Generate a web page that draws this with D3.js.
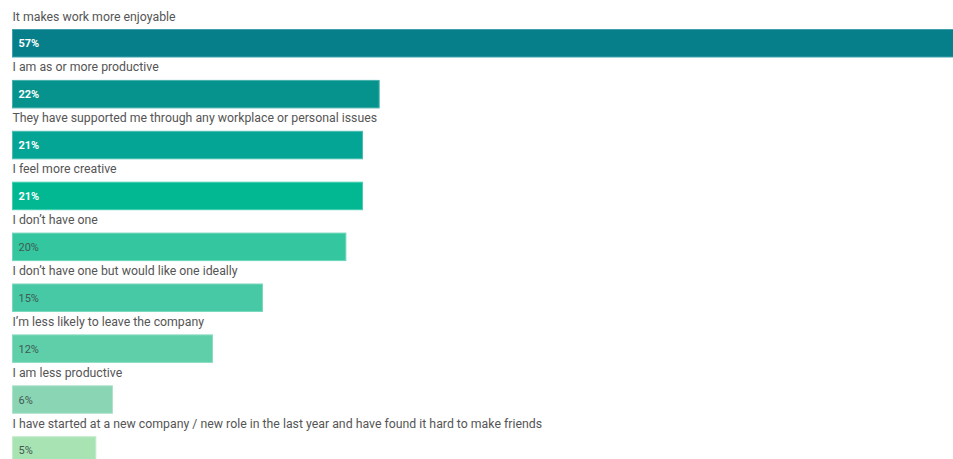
<!DOCTYPE html>
<html>
<head>
<meta charset="utf-8">
<script src="https://cdn.jsdelivr.net/npm/d3@7"></script>
<style>
  html, body { margin: 0; padding: 0; background: #fff; overflow: hidden; }
  svg { display: block; }
  text { font-family: Roboto, "Open Sans", sans-serif; }
</style>
</head>
<body>
<svg id="chart" width="953" height="459"></svg>
<script>
// Survey answers, in display order
const categories = [
  "It makes work more enjoyable",
  "I am as or more productive",
  "They have supported me through any workplace or personal issues",
  "I feel more creative",
  "I don\u2019t have one",
  "I don\u2019t have one but would like one ideally",
  "I\u2019m less likely to leave the company",
  "I am less productive",
  "I have started at a new company / new role in the last year and have found it hard to make friends"
];
// Share of respondents (%)
const values = [57, 22, 21, 21, 20, 15, 12, 6, 5];
// Bar fills, dark teal fading to pale green
const fills = ["#067f8a", "#06938e", "#05a596", "#01b893", "#33c69f", "#47c9a5", "#5ecfa9", "#8ad5b4", "#a8e3b4"];
const strokes = ["#3fa2ab", "#45b0ab", "#48bdb0", "#45cdae", "#6dd6b8", "#7ad8bd", "#8adcc0", "#aee2cb", "#c3ecca"];
const labelInk = ["#ffffff", "#ffffff", "#ffffff", "#ffffff", "#3f5a53", "#3f5a53", "#3f5a53", "#3f5a53", "#3f5a53"];

const data = categories.map((c, i) => ({ cat: c, v: values[i], fill: fills[i], stroke: strokes[i], ink: labelInk[i] }));

const svg = d3.select("#chart");
const left = 12.5;

const x = d3.scaleLinear().domain([0, 57]).range([0, 950]);
const y = d3.scaleBand().domain(categories).range([7.5, 7.5 + 9 * 50.9]).paddingInner(0).paddingOuter(0);

const barOffset = 22, barH = 27.5;

const g = svg.append("g");
const rows = g.selectAll("g.row").data(data).join("g")
  .attr("class", "row")
  .attr("transform", d => `translate(0,${y(d.cat)})`);

rows.append("text")
  .attr("x", left)
  .attr("y", 13)
  .attr("font-size", 12.3)
  .attr("fill", "#555")
  .text(d => d.cat);

rows.append("rect")
  .attr("x", left)
  .attr("y", barOffset)
  .attr("width", d => x(d.v))
  .attr("height", barH)
  .attr("fill", d => d.fill)
  .attr("stroke", d => d.stroke)
  .attr("stroke-width", 1);

rows.append("text")
  .attr("x", left + 6)
  .attr("y", barOffset + barH / 2 + 4)
  .attr("font-size", 11)
  .attr("font-weight", (d, i) => i < 4 ? "bold" : "normal")
  .attr("fill", d => d.ink)
  .text(d => d.v + "%");
</script>
</body>
</html>
